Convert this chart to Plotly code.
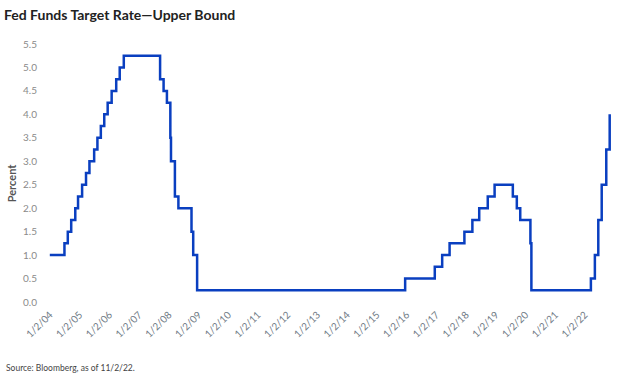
import plotly.graph_objects as go

change_dates = [
    "2004-01-02", "2004-06-30", "2004-08-10", "2004-09-21", "2004-11-10", "2004-12-14",
    "2005-02-02", "2005-03-22", "2005-05-03", "2005-06-30", "2005-08-09", "2005-09-20",
    "2005-11-01", "2005-12-13", "2006-01-31", "2006-03-28", "2006-05-10", "2006-06-29",
    "2007-09-18", "2007-10-31", "2007-12-11", "2008-01-22", "2008-01-30", "2008-03-18",
    "2008-04-30", "2008-10-08", "2008-10-29", "2008-12-16", "2015-12-16", "2016-12-14",
    "2017-03-15", "2017-06-14", "2017-12-13", "2018-03-21", "2018-06-13", "2018-09-26",
    "2018-12-19", "2019-07-31", "2019-09-18", "2019-10-30", "2020-03-03", "2020-03-15",
    "2022-03-16", "2022-05-04", "2022-06-15", "2022-07-27", "2022-09-21", "2022-11-02",
]
upper_bound = [
    1.00, 1.25, 1.50, 1.75, 2.00, 2.25,
    2.50, 2.75, 3.00, 3.25, 3.50, 3.75,
    4.00, 4.25, 4.50, 4.75, 5.00, 5.25,
    4.75, 4.50, 4.25, 3.50, 3.00, 2.25,
    2.00, 1.50, 1.00, 0.25, 0.50, 0.75,
    1.00, 1.25, 1.50, 1.75, 2.00, 2.25,
    2.50, 2.25, 2.00, 1.75, 1.25, 0.25,
    0.50, 1.00, 1.75, 2.50, 3.25, 4.00,
]
tick_dates = [f"{y}-01-02" for y in range(2004, 2023)]
tick_labels = [f"1/2/{str(y)[2:]}" for y in range(2004, 2023)]
y_ticks = [0.0, 0.5, 1.0, 1.5, 2.0, 2.5, 3.0, 3.5, 4.0, 4.5, 5.0, 5.5]

fig = go.Figure()
fig.add_trace(go.Scatter(
    x=change_dates, y=upper_bound, mode="lines", line_shape="hv",
    line=dict(color="#0a3fc0", width=2.5), showlegend=False, cliponaxis=False,
))

PW = 624 - 38 - 10
PH = 378 - 44 - 76
fig.update_layout(
    width=624, height=378,
    margin=dict(l=38, r=10, t=44, b=76, autoexpand=False),
    paper_bgcolor="white", plot_bgcolor="white",
    font=dict(family="Lato, sans-serif", color="#7a7a7a"),
    annotations=[
        dict(text="<b>Fed Funds Target Rate—Upper Bound</b>", xref="paper", yref="paper",
             x=-36/PW, y=1 + 30/PH, xanchor="left", yanchor="middle", showarrow=False,
             font=dict(size=14, color="#222222", family="Lato, sans-serif")),
        dict(text="<b>Percent</b>", xref="paper", yref="paper",
             x=-27/PW, y=0.46, xanchor="center", yanchor="middle", showarrow=False,
             textangle=-90, font=dict(size=11, color="#555555", family="Lato, sans-serif")),
        dict(text="Source: Bloomberg, as of 11/2/22.", xref="paper", yref="paper",
             x=-34/PW, y=-66/PH, xanchor="left", yanchor="middle", showarrow=False,
             font=dict(size=8.5, color="#444444", family="Lato, sans-serif")),
    ],
)
fig.update_xaxes(
    type="date", range=["2003-08-10", "2022-12-25"], automargin=False,
    tickvals=tick_dates, ticktext=tick_labels, tickangle=-45, ticklabelstandoff=4,
    tickfont=dict(size=10, color="#6f7a85"),
    showgrid=False, zeroline=False, showline=False, ticks="",
)
fig.update_yaxes(
    range=[0, 5.5], tickvals=y_ticks, ticktext=[f"{v:.1f}" for v in y_ticks],
    tickfont=dict(size=10, color="#8a8a8a"), automargin=False,
    showgrid=False, zeroline=False, showline=False, ticks="",
)

fig.write_html("out.html", config={"displayModeBar": False},
               post_script="document.body.style.margin='0';")
